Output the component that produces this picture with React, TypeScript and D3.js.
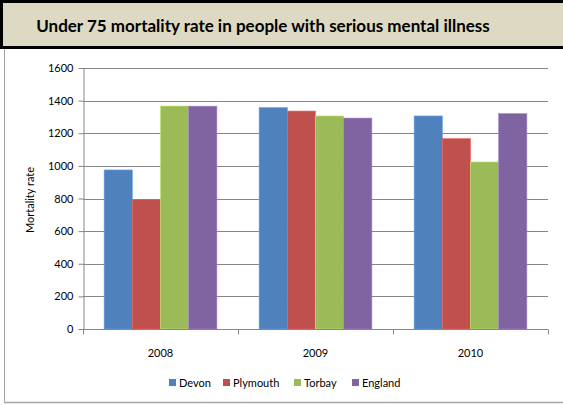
import React, { useEffect, useRef } from 'react';
import * as d3 from 'd3';

const years = ['2008', '2009', '2010'];
const seriesNames = ['Devon', 'Plymouth', 'Torbay', 'England'];
const seriesColors = ['#4F81BD', '#C0504D', '#9BBB59', '#8064A2'];
const devon = [975, 1357, 1306];
const plymouth = [795, 1336, 1167];
const torbay = [1367, 1306, 1024];
const england = [1366, 1293, 1320];
const yTicks = [0, 200, 400, 600, 800, 1000, 1200, 1400, 1600];

const W = 563;
const H = 405;
const font = 'Lato, "Open Sans", sans-serif';

const App: React.FC = () => {
  const svgRef = useRef<SVGSVGElement>(null);

  useEffect(() => {
    if (!svgRef.current) return;
    const svg = d3.select(svgRef.current);
    svg.selectAll('*').remove();

    const values = [devon, plymouth, torbay, england];
    const left = 83, right = 548, top = 68, bottom = 329;

    // frame lines
    svg.append('line').attr('x1', 4.5).attr('x2', 4.5).attr('y1', 48).attr('y2', 403)
      .attr('stroke', '#A6A6A6').attr('stroke-width', 1);
    svg.append('line').attr('x1', 4).attr('x2', W).attr('y1', 402.5).attr('y2', 402.5)
      .attr('stroke', '#A6A6A6').attr('stroke-width', 1.5);

    // title box
    svg.append('rect').attr('x', 1.5).attr('y', 1.5).attr('width', W + 10).attr('height', 46)
      .attr('fill', '#DDD9C3').attr('stroke', '#000').attr('stroke-width', 3);
    svg.append('text').attr('x', 263).attr('y', 32).attr('text-anchor', 'middle')
      .attr('font-family', font).attr('font-weight', 'bold').attr('font-size', '17px')
      .attr('fill', '#000').text('Under 75 mortality rate in people with serious mental illness');

    const y = d3.scaleLinear().domain([0, 1600]).range([bottom, top]);
    const x0 = d3.scaleBand<string>().domain(years).range([left, right]).paddingInner(0);
    const bw = x0.bandwidth() / 5.5;
    const x1 = d3.scaleBand<string>().domain(seriesNames)
      .range([bw * 0.75, x0.bandwidth() - bw * 0.75]).padding(0);

    // gridlines
    svg.append('g').selectAll('line').data(yTicks.slice(1)).join('line')
      .attr('x1', left).attr('x2', right)
      .attr('y1', d => Math.round(y(d)) + 0.5).attr('y2', d => Math.round(y(d)) + 0.5)
      .attr('stroke', '#868686').attr('stroke-width', 1);

    // bars
    seriesNames.forEach((name, si) => {
      svg.append('g').selectAll('rect').data(years).join('rect')
        .attr('x', d => (x0(d) as number) + (x1(name) as number))
        .attr('y', (d, i) => y(values[si][i]))
        .attr('width', x1.bandwidth())
        .attr('height', (d, i) => bottom - y(values[si][i]))
        .attr('fill', seriesColors[si])
        .attr('stroke', d3.color(seriesColors[si])!.brighter(0.6).formatHex())
        .attr('stroke-width', 0.6);
    });

    // y axis
    const yAxis = svg.append('g').attr('transform', `translate(${left + 0.5},0)`)
      .call(d3.axisLeft(y).tickValues(yTicks).tickFormat(d3.format('d')).tickSize(5).tickPadding(5).tickSizeOuter(0));
    yAxis.select('.domain').attr('stroke', '#868686');
    yAxis.selectAll('.tick line').attr('stroke', '#868686');
    yAxis.selectAll('.tick text').attr('font-family', font).attr('font-size', '11px').attr('fill', '#000');

    // x axis
    const xAxis = svg.append('g').attr('transform', `translate(0,${bottom + 0.5})`);
    xAxis.append('line').attr('x1', left).attr('x2', right).attr('y1', 0).attr('y2', 0)
      .attr('stroke', '#868686');
    const bounds = [...years.map(d => x0(d) as number), right];
    xAxis.selectAll('line.tk').data(bounds).join('line').attr('class', 'tk')
      .attr('x1', d => Math.round(d) + 0.5).attr('x2', d => Math.round(d) + 0.5)
      .attr('y1', 0).attr('y2', 5).attr('stroke', '#868686');
    xAxis.selectAll('text').data(years).join('text')
      .attr('x', d => (x0(d) as number) + x0.bandwidth() / 2).attr('y', 27)
      .attr('text-anchor', 'middle').attr('font-family', font).attr('font-size', '11px')
      .attr('fill', '#000').text(d => d);

    // y title
    svg.append('text').attr('transform', 'translate(34,200) rotate(-90)')
      .attr('text-anchor', 'middle').attr('font-family', font).attr('font-size', '11px')
      .attr('fill', '#000').text('Mortality rate');

    // legend
    const legendX = [169, 223, 294, 352];
    const lg = svg.append('g').selectAll('g').data(seriesNames).join('g')
      .attr('transform', (d, i) => `translate(${legendX[i]},383)`);
    lg.append('rect').attr('x', 0).attr('y', -4).attr('width', 7).attr('height', 7)
      .attr('fill', (d, i) => seriesColors[i]);
    lg.append('text').attr('x', 10).attr('y', 4).attr('font-family', font)
      .attr('font-size', '11px').attr('fill', '#000').text(d => d);
  }, []);

  return (
    <div style={{ position: 'absolute', left: 0, top: 0 }}>
      <svg ref={svgRef} width={W} height={H} style={{ display: 'block', background: '#fff' }} />
    </div>
  );
};

export default App;
